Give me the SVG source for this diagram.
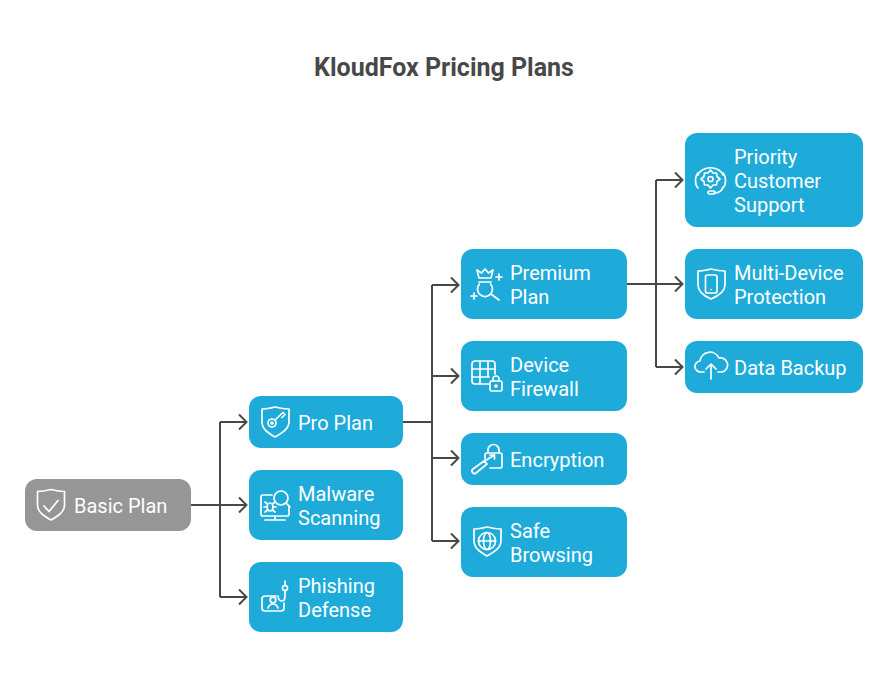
<svg xmlns="http://www.w3.org/2000/svg" width="888" height="681" viewBox="0 0 888 681">
<defs><style>
.t{font-family:Roboto,"Liberation Sans",sans-serif;font-size:20px;fill:#fff}
.title{font-family:Roboto,"Liberation Sans",sans-serif;font-size:25px;font-weight:700;fill:#484848}
.b{fill:#1eabda}.g{fill:#969696}
.c{fill:none;stroke:#484848;stroke-width:2}
.i{fill:none;stroke:#fff;stroke-width:1.7;stroke-linecap:round;stroke-linejoin:round}
</style></defs>
<rect width="888" height="681" fill="#fff"/>
<text class="title" x="444" y="76" text-anchor="middle">KloudFox Pricing Plans</text>
<g id="connectors" class="c">
<path d="M191 505H246M220 422V597M220 422H246M220 597H246M239 414.500l7.500 7.500l-7.500 7.500M239 497.500l7.500 7.500l-7.500 7.500M239 589.500l7.500 7.500l-7.500 7.500"/>
<path d="M403 422H432M432 285V541M432 285H458M432 376H458M432 458H458M432 541H458M451 277.500l7.500 7.500l-7.500 7.500M451 368.500l7.500 7.500l-7.500 7.500M451 450.500l7.500 7.500l-7.500 7.500M451 533.500l7.500 7.500l-7.500 7.500"/>
<path d="M627 284H682M656 180V367M656 180H682M656 367H682M675 172.500l7.500 7.500l-7.500 7.500M675 276.500l7.500 7.500l-7.500 7.500M675 359.500l7.500 7.500l-7.500 7.500"/>
</g>
<g id="basic"><rect class="g" x="25" y="479" width="166" height="52" rx="12"/>
<path class="i" d="M51 489.500c-4 1-9 2-13.500 2v13.500c0 7 6.500 11 13.500 15c7-4 13.500-8 13.500-15v-13.500c-4.500 0-9.500-1-13.500-2zM44 506l5 5.500l9-11"/>
<text class="t" x="74" y="513">Basic Plan</text></g>
<g id="pro"><rect class="b" x="249" y="396" width="154" height="52" rx="12"/>
<path class="i" d="M275 407c-4 1-9 2-13 2v13c0 7 6 11 13 15c7-4 14-8 14-15v-13c-4 0-10-1-14-2z"/><circle class="i" cx="272" cy="423" r="4"/><circle class="i" cx="272" cy="423" r="1"/><path class="i" d="M275 420l8-7.500l2 2l-3 3"/>
<text class="t" x="298" y="430">Pro Plan</text></g>
<g id="malware"><rect class="b" x="249" y="470" width="154" height="70" rx="12"/>
<path class="i" d="M272 495h-9a2 2 0 0 0-2 2v17a2 2 0 0 0 2 2h24a2 2 0 0 0 2-2v-8M265 520h20M275 516v4"/><circle class="i" cx="281" cy="498" r="7"/><path class="i" d="M286 503l4 4"/><ellipse class="i" cx="270" cy="507" rx="3" ry="4"/><path class="i" d="M265 502l2.500 2M265 512l2.500-2M275 502l-2.500 2M275 512l-2.500-2M264 507h3M273 507h3"/>
<text class="t"><tspan x="298" y="501">Malware</tspan><tspan x="298" y="525">Scanning</tspan></text></g>
<g id="phishing"><rect class="b" x="249" y="562" width="154" height="70" rx="12"/>
<path class="i" d="M276 596h-11a3 3 0 0 0-3 3v9a3 3 0 0 0 3 3h16a3 3 0 0 0 3-3v-5M278 596c0 3 2 5 4 5s3-2 3-5v-5.500M285 581v4.500"/><circle class="i" cx="285" cy="588" r="2.500"/><circle class="i" cx="273" cy="600" r="2.800"/><path class="i" d="M268 608c1-3 3-4 5-4s4 1 5 4"/>
<text class="t"><tspan x="298" y="593">Phishing</tspan><tspan x="298" y="617">Defense</tspan></text></g>
<g id="premium"><rect class="b" x="461" y="249" width="166" height="70" rx="12"/>
<path class="i" d="M477 270l2 8h12l2-8l-4.500 3l-3.500-4l-3.500 4zM479 282h12M479.500 284a7.500 7.500 0 1 0 11 0M491 294l8 6M496 277h6M499 274v6M471 296h6M474 293v6"/>
<text class="t"><tspan x="510" y="280">Premium</tspan><tspan x="510" y="304">Plan</tspan></text></g>
<g id="firewall"><rect class="b" x="461" y="341" width="166" height="70" rx="12"/>
<path class="i" d="M489 384h-14a3 3 0 0 1-3-3v-17a3 3 0 0 1 3-3h17a3 3 0 0 1 3 3v10M472 369h23M472 377h17M480 361v23M488 361v16"/><rect class="i" x="490" y="381" width="12" height="10" rx="1.500"/><path class="i" d="M493 381v-2a3 3 0 0 1 6 0v2"/><circle class="i" cx="496" cy="386" r="1"/>
<text class="t"><tspan x="510" y="372">Device</tspan><tspan x="510" y="396">Firewall</tspan></text></g>
<g id="encryption"><rect class="b" x="461" y="433" width="166" height="52" rx="12"/>
<path class="i" d="M485 459v-4a2 2 0 0 1 2-2h13a2 2 0 0 1 2 2v11a2 2 0 0 1-2 2h-10M488 453v-3a5.500 5.500 0 0 1 11 0v3"/><path class="i" d="M473 469l11-8l3 3l-11 9a2 2 0 0 1-3-4zM485 461l9-6M490 455h4.500v4"/>
<text class="t" x="510" y="467">Encryption</text></g>
<g id="safe"><rect class="b" x="461" y="507" width="166" height="70" rx="12"/>
<path class="i" d="M487 527c-4 1-9 2-13 2v12c0 7 6 11 13 15c7-4 14-8 14-15v-12c-4 0-10-1-14-2z"/><circle class="i" cx="487" cy="541" r="8.500"/><ellipse class="i" cx="487" cy="541" rx="3.500" ry="8.500"/><path class="i" d="M478.500 541h17"/>
<text class="t"><tspan x="510" y="538">Safe</tspan><tspan x="510" y="562">Browsing</tspan></text></g>
<g id="priority"><rect class="b" x="685" y="133" width="178" height="94" rx="12"/>
<path class="i" d="M698 175a13 10 0 0 1 25 0M698 173c-2 2-2.500 5-2.500 8s.5 5 2.500 7M723 173c2 2 2.500 5 2.500 8s-.5 5-2.500 7M723 187c-1 4-5 6-9 6"/><rect class="i" x="708" y="191" width="7" height="3" rx="1.500"/><circle class="i" cx="710.500" cy="179" r="2.500"/><path class="i" d="M710.500 170l2.500 3h3.500l.5 3.500l3 2.500l-3 2.500l-.5 3.500h-3.500l-2.500 3l-2.500-3h-3.500l-.5-3.500l-3-2.500l3-2.500l.5-3.500h3.500z"/>
<text class="t"><tspan x="734" y="164">Priority</tspan><tspan x="734" y="188">Customer</tspan><tspan x="734" y="212">Support</tspan></text></g>
<g id="multi"><rect class="b" x="685" y="249" width="178" height="70" rx="12"/>
<path class="i" d="M711 269c-4 1-9 2-13 2v14c0 7 6 11 13 14c7-3 14-7 14-14v-14c-4 0-10-1-14-2z"/><rect class="i" x="705.500" y="275" width="11.500" height="18" rx="2"/><path class="i" d="M711 289.500h.01"/>
<text class="t"><tspan x="734" y="280">Multi-Device</tspan><tspan x="734" y="304">Protection</tspan></text></g>
<g id="backup"><rect class="b" x="685" y="341" width="178" height="52" rx="12"/>
<path class="i" d="M704 372h-3a5.500 5.500 0 0 1-1-11a10 10 0 0 1 19-3a7 7 0 0 1 3 14h-4M711 379v-15M706 369l5-5l5 5"/>
<text class="t" x="734" y="375">Data Backup</text></g>
</svg>
